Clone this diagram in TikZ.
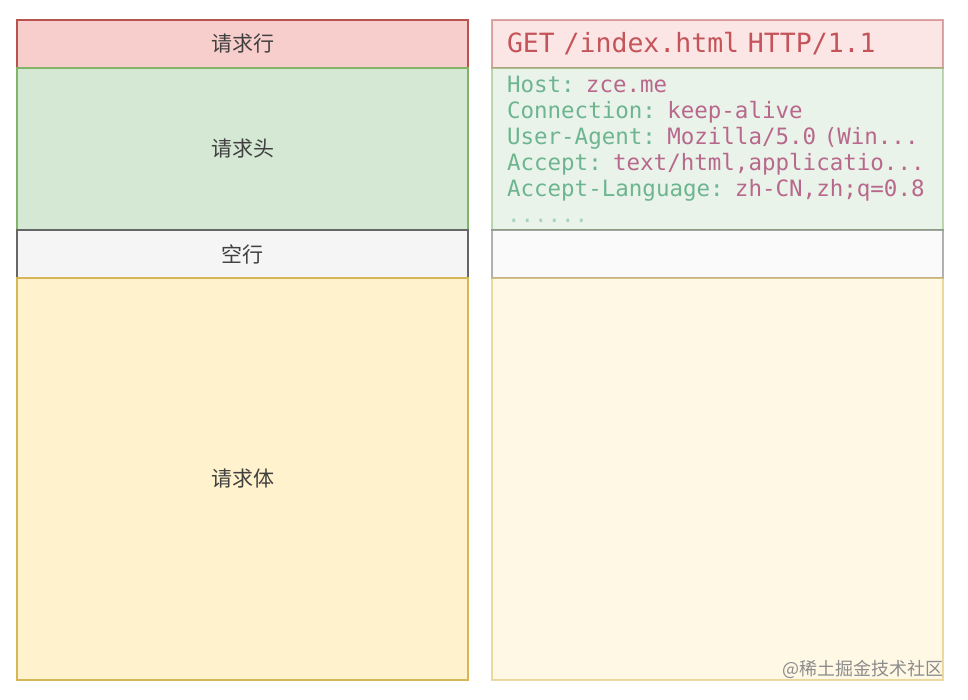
\documentclass[tikz,border=0pt]{standalone}
\usepackage{fontspec}
\usetikzlibrary{positioning}
\newfontfamily\cjkfont{Noto Sans CJK SC}
\newfontfamily\codefont{DejaVu Sans Mono}
\newcommand\codesize[1]{\codefont\fontsize{#1}{26}\selectfont}
\definecolor{redfill}{HTML}{F8CECC}
\definecolor{redline}{HTML}{B85450}
\definecolor{greenfill}{HTML}{D5E8D4}
\definecolor{greenline}{HTML}{82B366}
\definecolor{grayfill}{HTML}{F5F5F5}
\definecolor{grayline}{HTML}{666666}
\definecolor{yellowfill}{HTML}{FFF2CC}
\definecolor{yellowline}{HTML}{D6B656}
\definecolor{keycol}{HTML}{6DB58F}
\definecolor{valcol}{HTML}{B8688C}
\definecolor{getcol}{HTML}{C4545A}
\tikzset{
	part/.style={draw, rectangle, line width=1.2pt, inner sep=0pt, outer sep=0pt, minimum width=451pt, text=black!75, font=\cjkfont\fontsize{21}{24}\selectfont},
	rowline/.style={part, fill=redfill, draw=redline, minimum height=48pt},
	rowhead/.style={part, fill=greenfill, draw=greenline, minimum height=162pt},
	rowblank/.style={part, fill=grayfill, draw=grayline, minimum height=48pt},
	rowbody/.style={part, fill=yellowfill, draw=yellowline, minimum height=402pt},
	faded/.style={fill opacity=0.5, draw opacity=0.5, text opacity=1},
	code/.style={inner xsep=15pt, text width=421pt, align=left},
}

\begin{document}
\begin{tikzpicture}[x=1pt, y=-1pt]
		\useasboundingbox (0,0) rectangle (968,700);
		% message parts
		\node (line) [rowline, anchor=north west] at (17,20) {请求行};
		\node (head) [rowhead, below=0pt of line] {请求头};
		\node (blank) [rowblank, below=0pt of head] {空行};
		\node (body) [rowbody, below=0pt of blank] {请求体};
		
		% example request
		\node (line2) [rowline, faded, code, right=24pt of line, text=getcol, font=\codesize{26.5}] {GET /index.html HTTP/1.1};
		\node (head2) [rowhead, faded, code, right=24pt of head, font=\codesize{22.5}] {%
			\textcolor{keycol}{Host:} \textcolor{valcol}{zce.me}\\
			\textcolor{keycol}{Connection:} \textcolor{valcol}{keep-alive}\\
			\textcolor{keycol}{User-Agent:} \textcolor{valcol}{Mozilla/5.0 (Win...}\\
			\textcolor{keycol}{Accept:} \textcolor{valcol}{text/html,applicatio...}\\
			\textcolor{keycol}{Accept-Language:} \textcolor{valcol}{zh-CN,zh;q=0.8}\\
			\textcolor{keycol!60}{......}};
		\node (blank2) [rowblank, faded, right=24pt of blank] {};
		\node (body2) [rowbody, faded, right=24pt of body] {};
		
		\node (mark) [anchor=east, text=black!45, font=\cjkfont\fontsize{18}{20}\selectfont] at (947,669) {@稀土掘金技术社区};
	\end{tikzpicture}
\end{document}
